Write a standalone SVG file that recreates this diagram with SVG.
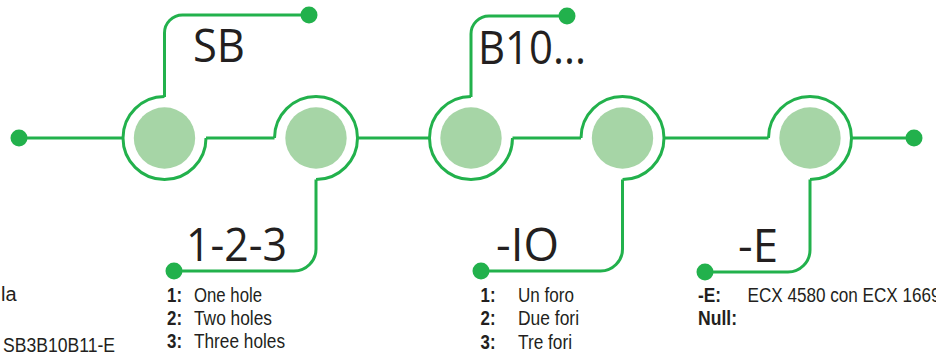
<svg xmlns="http://www.w3.org/2000/svg" width="936" height="356" viewBox="0 0 936 356">
  <defs>
    <style>
      .ring { fill: none; stroke: #22B14C; stroke-width: 3; }
      .core { fill: #A6D5A6; }
      .wire { fill: none; stroke: #22B14C; stroke-width: 3; }
      .dot { fill: #22B14C; }
      .big { font-family: "Open Sans", "Liberation Sans", sans-serif; font-size: 45px; fill: #231F20; }
      .txt { font-family: "Liberation Sans Narrow", "Liberation Sans", sans-serif; font-size: 20px; fill: #231F20; }
      .b { font-weight: bold; }
    </style>
  </defs>
  <rect width="936" height="356" fill="#ffffff"/>

  <g id="connectors">
    <path class="wire" d="M19,138 H123 M206,138 H274.5 M357.5,138 H429.5 M512.5,138 H581 M664,138 H768.5 M851.5,138 H914"/>
    <path class="wire" d="M164.5,97 V33 A18,18 0 0 1 182.5,15 H309"/>
    <path class="wire" d="M471,97 V34 A18,18 0 0 1 489,16 H567"/>
    <path class="wire" d="M316,179.5 V249 A22,22 0 0 1 294,271 H174"/>
    <path class="wire" d="M622.5,179.5 V249 A22,22 0 0 1 600.5,271 H481"/>
    <path class="wire" d="M810,179.5 V250 A22,22 0 0 1 788,272 H705"/>
    <circle class="dot" cx="19" cy="138" r="8.5"/>
    <circle class="dot" cx="309" cy="15" r="8.5"/>
    <circle class="dot" cx="567" cy="16" r="8.5"/>
    <circle class="dot" cx="174" cy="271" r="8.5"/>
    <circle class="dot" cx="481" cy="271" r="8.5"/>
    <circle class="dot" cx="705" cy="272" r="8.5"/>
    <circle class="dot" cx="914" cy="138" r="8.5"/>
  </g>

  <g id="node1">
    <path class="ring" d="M164.5,96.5 A41.5,41.5 0 1 0 206,138"/>
    <circle class="core" cx="164.5" cy="138" r="30.7"/>
  </g>
  <g id="node2">
    <path class="ring" d="M274.5,138 A41.5,41.5 0 1 1 316,179.5"/>
    <circle class="core" cx="316" cy="138" r="30.7"/>
  </g>
  <g id="node3">
    <path class="ring" d="M471,96.5 A41.5,41.5 0 1 0 512.5,138"/>
    <circle class="core" cx="471" cy="138" r="30.7"/>
  </g>
  <g id="node4">
    <path class="ring" d="M581,138 A41.5,41.5 0 1 1 622.5,179.5"/>
    <circle class="core" cx="622.5" cy="138" r="30.7"/>
  </g>
  <g id="node5">
    <path class="ring" d="M768.5,138 A41.5,41.5 0 1 1 810,179.5"/>
    <circle class="core" cx="810" cy="138" r="30.7"/>
  </g>

  <g id="labels">
    <text class="big" x="193" y="61.7" textLength="52" lengthAdjust="spacingAndGlyphs">SB</text>
    <text class="big" x="478" y="64" textLength="108" lengthAdjust="spacingAndGlyphs">B10...</text>
    <text class="big" x="186" y="260.7" textLength="101" lengthAdjust="spacingAndGlyphs">1-2-3</text>
    <text class="big" x="496" y="260.7" textLength="63" lengthAdjust="spacingAndGlyphs">-IO</text>
    <text class="big" x="738" y="261.7" textLength="40" lengthAdjust="spacingAndGlyphs">-E</text>
  </g>

  <g id="legend-left">
    <text class="txt" x="1" y="300.7">la</text>
    <text class="txt" x="3" y="352" textLength="112" lengthAdjust="spacingAndGlyphs">SB3B10B11-E</text>
  </g>

  <g id="legend-holes">
    <text class="txt b" x="167" y="302.3" textLength="15" lengthAdjust="spacingAndGlyphs">1:</text>
    <text class="txt b" x="167" y="325" textLength="15" lengthAdjust="spacingAndGlyphs">2:</text>
    <text class="txt b" x="167" y="348.3" textLength="15" lengthAdjust="spacingAndGlyphs">3:</text>
    <text class="txt" x="194" y="302.3" textLength="68" lengthAdjust="spacingAndGlyphs">One hole</text>
    <text class="txt" x="194" y="325" textLength="78" lengthAdjust="spacingAndGlyphs">Two holes</text>
    <text class="txt" x="194" y="348.3" textLength="91" lengthAdjust="spacingAndGlyphs">Three holes</text>
  </g>

  <g id="legend-fori">
    <text class="txt b" x="480.5" y="302.3" textLength="15" lengthAdjust="spacingAndGlyphs">1:</text>
    <text class="txt b" x="480.5" y="325" textLength="15" lengthAdjust="spacingAndGlyphs">2:</text>
    <text class="txt b" x="480.5" y="349.3" textLength="15" lengthAdjust="spacingAndGlyphs">3:</text>
    <text class="txt" x="518" y="302.3" textLength="56" lengthAdjust="spacingAndGlyphs">Un foro</text>
    <text class="txt" x="518" y="325" textLength="61" lengthAdjust="spacingAndGlyphs">Due fori</text>
    <text class="txt" x="518" y="349.3" textLength="54" lengthAdjust="spacingAndGlyphs">Tre fori</text>
  </g>

  <g id="legend-e">
    <text class="txt b" x="698" y="301.7" textLength="23" lengthAdjust="spacingAndGlyphs">-E:</text>
    <text class="txt b" x="698" y="325" textLength="39" lengthAdjust="spacingAndGlyphs">Null:</text>
    <text class="txt" x="747.5" y="301.7" textLength="193" lengthAdjust="spacingAndGlyphs">ECX 4580 con ECX 1669</text>
  </g>
</svg>
